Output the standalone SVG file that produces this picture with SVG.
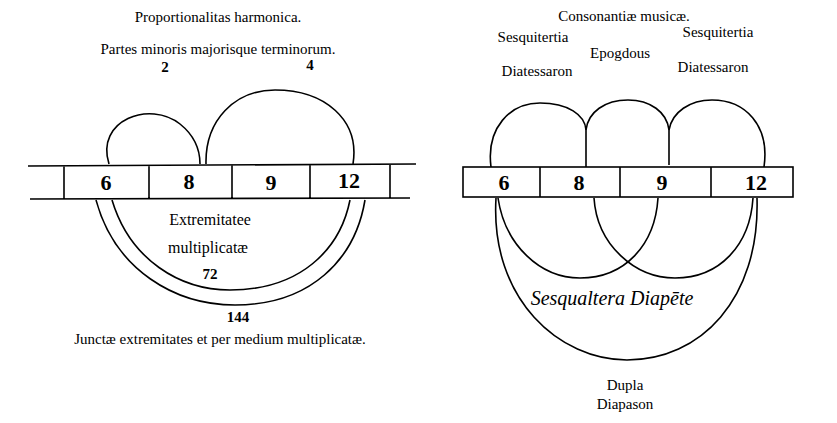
<svg xmlns="http://www.w3.org/2000/svg" width="837" height="423" viewBox="0 0 837 423">
<style>
.l{fill:none;stroke:#000;stroke-width:1.6}
.t{font-family:"Liberation Serif",serif;font-size:15px;fill:#000;text-anchor:middle}
.n{font-family:"Liberation Serif",serif;font-size:22px;font-weight:bold;fill:#000;text-anchor:middle}
.i{font-family:"Liberation Serif",serif;font-style:italic;font-size:20px;fill:#000;text-anchor:middle}
</style>
<rect width="837" height="423" fill="#fff"/>
<g id="left-titles">
<text class="t" x="218" y="22">Proportionalitas harmonica.</text>
<text class="t" x="218" y="54">Partes minoris majorisque terminorum.</text>
<text class="t" x="165" y="72" font-weight="bold">2</text>
<text class="t" x="310" y="70" font-weight="bold">4</text>
</g>
<g id="left-bar">
<path class="l" d="M28 166 L416 164 M30 199 L410 198 M64 166 V199 M149 166 V199 M232 165 V199 M310 165 V198 M390 164 V198"/>
<text class="n" x="106" y="190">6</text>
<text class="n" x="189" y="189">8</text>
<text class="n" x="271" y="190">9</text>
<text class="n" x="349" y="188">12</text>
</g>
<g id="left-connectors">
<path class="l" d="M109 164 C95 120,150 100,180 124 C195 136,200 150,200 164"/>
<path class="l" d="M206 164 C205 120,235 90,275 90 C325 90,360 120,353 164"/>
<path class="l" d="M112 200 C130 260,180 290,230 290 C300 290,340 250,350 200"/>
<path class="l" d="M96 200 C115 270,175 305,235 305 C310 305,355 260,365 200"/>
</g>
<g id="left-labels">
<text class="t" x="210" y="225" style="font-size:16px">Extremitatee</text>
<text class="t" x="208" y="253" style="font-size:16px">multiplicatæ</text>
<text class="t" x="210" y="279" font-weight="bold">72</text>
<text class="t" x="238" y="322" font-weight="bold">144</text>
<text class="t" x="220" y="344">Junctæ extremitates et per medium multiplicatæ.</text>
</g>
<g id="right-titles">
<text class="t" x="624" y="21">Consonantiæ musicæ.</text>
<text class="t" x="533" y="42">Sesquitertia</text>
<text class="t" x="620" y="58">Epogdous</text>
<text class="t" x="718" y="37">Sesquitertia</text>
<text class="t" x="537" y="76">Diatessaron</text>
<text class="t" x="713" y="72">Diatessaron</text>
</g>
<g id="right-bar">
<rect class="l" x="463" y="167" width="330" height="30"/>
<path class="l" d="M540 167 V197 M620 167 V197 M711 167 V197"/>
<text class="n" x="504" y="190">6</text>
<text class="n" x="579" y="190">8</text>
<text class="n" x="662" y="190">9</text>
<text class="n" x="756" y="190">12</text>
</g>
<g id="right-connectors">
<path class="l" d="M491 167 C486 128,510 103,540 103 C568 103,585 115,586 130 V167"/>
<path class="l" d="M586 130 C588 112,605 100,628 100 C650 100,667 112,669 130 V165"/>
<path class="l" d="M669 130 C672 112,690 100,712 100 C745 100,770 125,764 167"/>
<path class="l" d="M498 198 C505 245,540 278,580 278 C625 278,655 245,658 198"/>
<path class="l" d="M594 198 C597 245,635 278,675 278 C720 278,750 245,753 198"/>
<path class="l" d="M496 198 C490 300,560 360,627 360 C700 360,760 300,757 198"/>
</g>
<g id="right-labels">
<text class="i" x="612" y="305">Sesqualtera Diapēte</text>
<text class="t" x="625" y="390">Dupla</text>
<text class="t" x="625" y="409">Diapason</text>
</g>
</svg>
